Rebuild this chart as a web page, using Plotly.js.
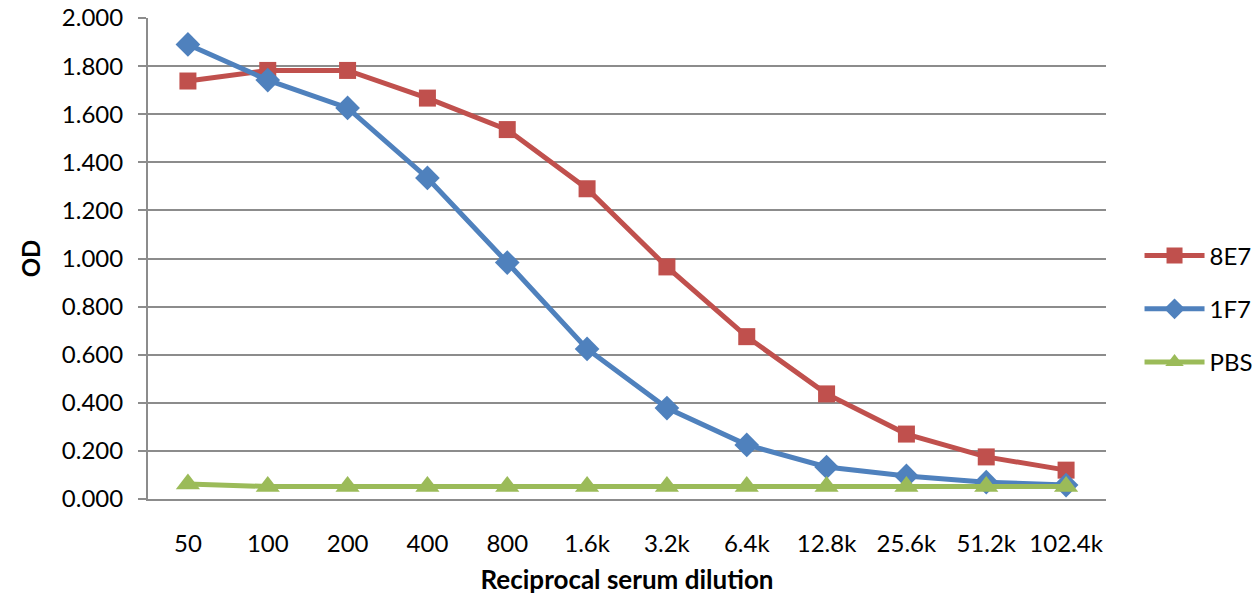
<!DOCTYPE html>
<html>
<head>
<meta charset="utf-8">
<script src="https://cdn.plot.ly/plotly-3.0.1.min.js"></script>
<style>
  html, body { margin: 0; padding: 0; background: #ffffff; }
  #chart { width: 1260px; height: 595px; }
</style>
</head>
<body>
<div id="chart"></div>
<script>
// Serum dilution series (category labels on the x axis)
const dilutions = ['50', '100', '200', '400', '800', '1.6k', '3.2k', '6.4k', '12.8k', '25.6k', '51.2k', '102.4k'];

// OD readings per serum
const od8E7 = [1.738, 1.782, 1.782, 1.667, 1.536, 1.290, 0.965, 0.675, 0.437, 0.270, 0.175, 0.120];
const od1F7 = [1.890, 1.742, 1.626, 1.335, 0.983, 0.624, 0.378, 0.225, 0.133, 0.096, 0.070, 0.058];
const odPBS = [0.062, 0.052, 0.052, 0.052, 0.052, 0.052, 0.052, 0.052, 0.052, 0.052, 0.052, 0.052];

const seriesNames = ['8E7', '1F7', 'PBS'];
const seriesColors = ['#C0504D', '#4F81BD', '#9BBB59'];
const seriesSymbols = ['square', 'diamond', 'triangle-up'];
const seriesSizes = [17, 19, 21];
const seriesValues = [od8E7, od1F7, odPBS];

const FONT = 'Lato, "Open Sans", sans-serif';
const GRID = '#8c8c8c';

const traces = seriesNames.map((name, i) => ({
  type: 'scatter',
  mode: 'lines+markers',
  name: name,
  legendgroup: name,
  x: dilutions,
  y: seriesValues[i],
  line: { color: seriesColors[i], width: 5 },
  marker: { symbol: seriesSymbols[i], size: seriesSizes[i], color: seriesColors[i] },
  cliponaxis: false
}));

const layout = {
  width: 1260,
  height: 595,
  paper_bgcolor: '#ffffff',
  plot_bgcolor: '#ffffff',
  margin: { l: 148, r: 154, t: 18, b: 96, autoexpand: false },
  font: { family: FONT, size: 24, color: '#000000' },
  showlegend: true,
  legend: {
    x: 1.035, xanchor: 'left',
    y: 0.395, yanchor: 'middle',
    font: { family: FONT, size: 24, color: '#000000' },
    tracegroupgap: 19,
    itemwidth: 60,
    bgcolor: 'rgba(0,0,0,0)'
  },
  xaxis: {
    type: 'category',
    range: [-0.5, 11.5],
    showgrid: false,
    zeroline: false,
    showline: true,
    linecolor: GRID,
    linewidth: 2,
    ticks: '',
    ticklabelstandoff: 22,
    tickfont: { family: FONT, size: 24, color: '#000000' },
    title: {
      text: '<b>Reciprocal serum dilution</b>',
      font: { family: FONT, size: 26, color: '#000000' },
      standoff: 16
    },
    fixedrange: true
  },
  yaxis: {
    range: [0, 2],
    dtick: 0.2,
    tick0: 0,
    tickformat: '.3f',
    showgrid: true,
    gridcolor: GRID,
    gridwidth: 2,
    zeroline: false,
    showline: true,
    linecolor: GRID,
    linewidth: 2,
    ticks: 'outside',
    ticklen: 8,
    tickwidth: 2,
    tickcolor: GRID,
    ticklabelstandoff: 10,
    tickfont: { family: FONT, size: 24, color: '#000000' },
    title: {
      text: '<b>OD</b>',
      font: { family: FONT, size: 24, color: '#000000' },
      standoff: 14
    },
    fixedrange: true
  }
};

Plotly.newPlot('chart', traces, layout, { displayModeBar: false, staticPlot: true });
</script>
</body>
</html>
